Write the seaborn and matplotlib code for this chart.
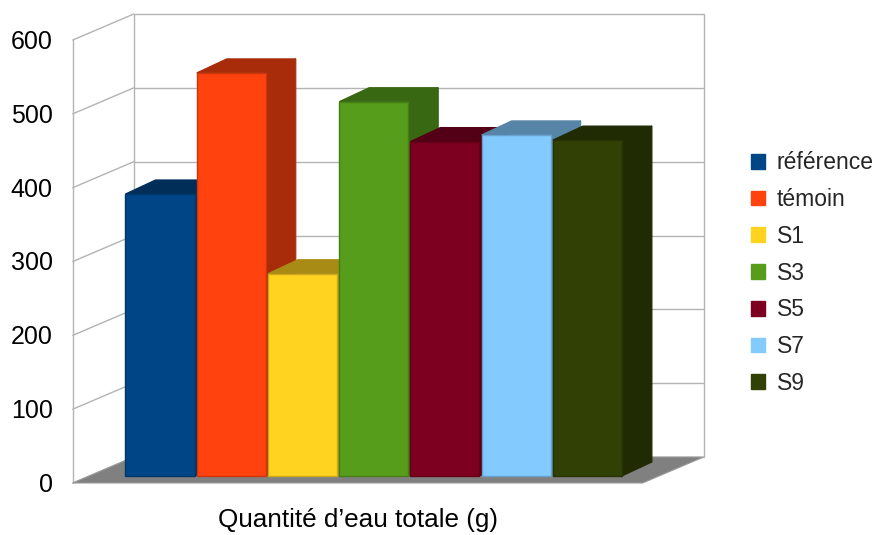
import numpy as np
import pandas as pd
import matplotlib
matplotlib.use("Agg")
import matplotlib.pyplot as plt
import seaborn as sns
from matplotlib.patches import Polygon, Patch, Rectangle
from matplotlib.lines import Line2D
import matplotlib.colors as mcolors

# ---- data ----
categories = ["référence", "témoin", "S1", "S3", "S5", "S7", "S9"]
values = [382, 546, 274, 507, 453, 462, 455]
colors = ["#004586", "#ff420e", "#ffd320", "#579d1c", "#7e0021", "#83caff", "#314004"]
y_ticks = [0, 100, 200, 300, 400, 500, 600]
x_label = "Quantité d’eau totale (g)"

sns.set_theme(style="white")
plt.rcParams["font.family"] = ["Liberation Sans", "DejaVu Sans"]

W, H = 887, 535
fig = plt.figure(figsize=(W / 100, H / 100), dpi=100)
ax = fig.add_axes([88.8 / W, 1 - 476 / H, 569.8 / W, 443 / H])

df = pd.DataFrame({"cat": categories, "val": values})
pal = dict(zip(categories, colors))
sns.barplot(data=df, x="cat", y="val", hue="cat", palette=pal, order=categories,
            hue_order=categories, width=0.97, legend=False, ax=ax, saturation=1,
            linewidth=0)
ax.set_xlim(-1, 7)
ax.set_ylim(0, 600)
ax.set_axis_off()

bars = sorted([p for p in ax.patches if isinstance(p, Rectangle) and p.get_height() > 0],
              key=lambda p: p.get_x())

# pixel offsets (display, y up)
FRONT = (-16, -7)
BACK = (45, 19)
BARD = (30, 14)


def shift(x, y, d):
    px = ax.transData.transform((x, y))
    return tuple(ax.transData.inverted().transform((px[0] + d[0], px[1] + d[1])))


grid_c = "#b3b3b3"
# back wall
bw = [shift(-1, 0, BACK), shift(7, 0, BACK), shift(7, 600, BACK), shift(-1, 600, BACK)]
ax.add_patch(Polygon(bw, closed=True, facecolor="white", edgecolor=grid_c, lw=1,
                     zorder=0.2, clip_on=False))
for v in y_ticks[1:-1]:
    a, b = shift(-1, v, BACK), shift(7, v, BACK)
    ax.add_line(Line2D([a[0], b[0]], [a[1], b[1]], color=grid_c, lw=1, zorder=0.3, clip_on=False))
# left wall
for v in y_ticks:
    a, b = shift(-1, v, FRONT), shift(-1, v, BACK)
    ax.add_line(Line2D([a[0], b[0]], [a[1], b[1]], color=grid_c, lw=1, zorder=0.3, clip_on=False))
a, b = shift(-1, 0, FRONT), shift(-1, 600, FRONT)
ax.add_line(Line2D([a[0], b[0]], [a[1], b[1]], color=grid_c, lw=1, zorder=0.3, clip_on=False))
# floor
fl = [shift(-1, 0, FRONT), shift(7, 0, FRONT), shift(7, 0, BACK), shift(-1, 0, BACK)]
ax.add_patch(Polygon(fl, closed=True, facecolor="#808080", edgecolor="#9a9a9a", lw=0.8,
                     zorder=0.5, clip_on=False))

# bars: add top and side faces
for i, p in enumerate(bars):
    x0, w, h = p.get_x(), p.get_width(), p.get_height()
    fc = np.array(mcolors.to_rgb(p.get_facecolor()))
    dark = tuple(fc * 0.66)
    edge = tuple(fc * 0.8)
    p.set_zorder(3 + 2 * i)
    p.set_edgecolor(edge)
    p.set_linewidth(1.0)
    p.set_clip_on(False)
    top = [(x0, h), (x0 + w, h), shift(x0 + w, h, BARD), shift(x0, h, BARD)]
    side = [(x0 + w, 0), (x0 + w, h), shift(x0 + w, h, BARD), shift(x0 + w, 0, BARD)]
    for poly in (top, side):
        ax.add_patch(Polygon(poly, closed=True, facecolor=dark, edgecolor=dark, lw=0.8,
                             zorder=2 + 2 * i, clip_on=False))

# y tick labels at the front-left edge
for v in y_ticks:
    px = ax.transData.transform((-1, v))
    xf = (px[0] - 36) / W
    yf = (px[1] - 9) / H
    fig.text(xf, yf, str(v), ha="right", va="center", fontsize=18, color="black")

# x label
fig.text(357.7 / W, 1 - 520 / H, x_label, ha="center", va="center", fontsize=18.8, color="black")

# legend
handles = [Patch(facecolor=c, edgecolor=c) for c in colors]
fig.legend(handles=handles, labels=categories, loc="center left",
           bbox_to_anchor=(751 / W, 1 - 273 / H), bbox_transform=fig.transFigure,
           frameon=False, fontsize=16.5, handlelength=0.62, handleheight=0.62,
           handletextpad=0.5, labelspacing=0.6, borderpad=0, borderaxespad=0)

fig.savefig("out.png", dpi=100)
